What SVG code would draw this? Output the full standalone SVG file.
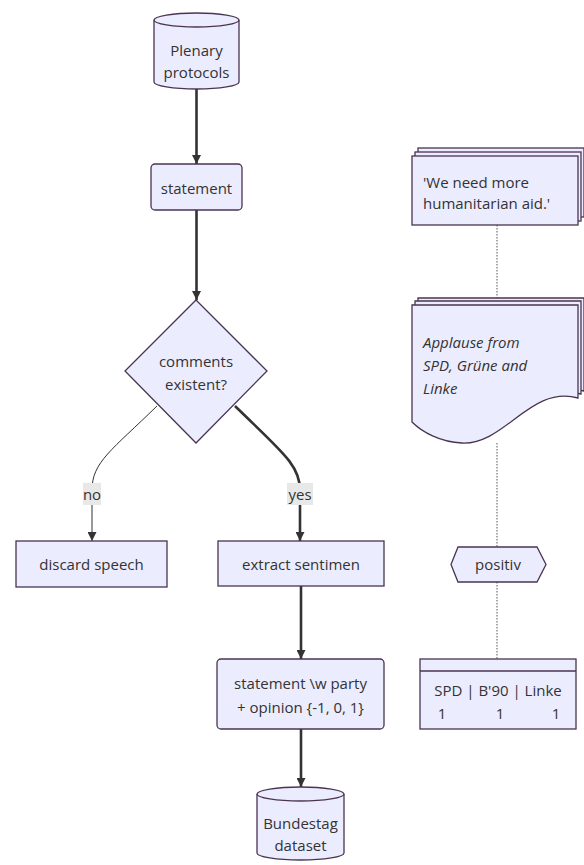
<svg xmlns="http://www.w3.org/2000/svg" width="584" height="865" viewBox="0 0 584 865">
<defs>
<style>
.node{fill:#ECECFF;stroke:#4a3550;stroke-width:1.3}
.t{font-family:"Open Sans","Liberation Sans",sans-serif;font-size:15px;fill:#333;text-anchor:middle;dominant-baseline:central}
.tl{font-family:"Open Sans","Liberation Sans",sans-serif;font-size:15px;fill:#333;dominant-baseline:central}
.it{font-style:italic}
.thick{fill:none;stroke:#333;stroke-width:2.6}
.thin{fill:none;stroke:#333;stroke-width:1}
.dot{fill:none;stroke:#555;stroke-width:1;stroke-dasharray:1.5 1.5}
.lbl{fill:#e8e8e8}
</style>
<marker id="ah" viewBox="0 0 10 10" refX="10" refY="5" markerUnits="userSpaceOnUse" markerWidth="9" markerHeight="9" orient="auto">
<path d="M0,0 L10,5 L0,10 z" fill="#333"/>
</marker>
</defs>
<rect width="584" height="865" fill="#fff"/>
<g id="connectors">
<path class="thick" d="M196.5,89 L196.5,164" marker-end="url(#ah)"/>
<path class="thick" d="M196.5,210 L196.5,300" marker-end="url(#ah)"/>
<path class="thin" d="M157,406 C112,450 92,462 92,490 L92,541" marker-end="url(#ah)"/>
<path class="thick" d="M235,406 C282,452 300,465 300,490 L300,541" marker-end="url(#ah)"/>
<path class="thick" d="M301,586 L301,659" marker-end="url(#ah)"/>
<path class="thick" d="M301,729 L301,787" marker-end="url(#ah)"/>
<path class="dot" d="M497,225 L497,298"/>
<path class="dot" d="M497,443 L497,547"/>
<path class="dot" d="M497,582 L497,659"/>
<rect class="lbl" x="83" y="483" width="18" height="22"/>
<text class="t" x="92" y="494">no</text>
<rect class="lbl" x="287" y="483" width="26" height="22"/>
<text class="t" x="300" y="494">yes</text>
</g>
<g id="plenary">
<path class="node" d="M154,20 A42.5,7 0 0 1 239,20 L239,82 A42.5,7 0 0 1 154,82 Z"/>
<path class="node" d="M154,20 A42.5,7 0 0 0 239,20" fill="none"/>
<text class="t" x="196.5" y="50">Plenary</text>
<text class="t" x="196.5" y="72">protocols</text>
</g>
<g id="statement">
<rect class="node" x="151" y="164" width="91" height="46" rx="4"/>
<text class="t" x="196.5" y="188">statement</text>
</g>
<g id="comments">
<path class="node" d="M196,300 L267,371 L196,443 L125,371 Z"/>
<text class="t" x="196" y="361">comments</text>
<text class="t" x="196" y="384">existent?</text>
</g>
<g id="discard">
<rect class="node" x="16" y="541" width="151" height="46"/>
<text class="t" x="91.5" y="564">discard speech</text>
</g>
<g id="extract">
<rect class="node" x="218" y="541" width="166" height="45"/>
<text class="t" x="301" y="564">extract sentimen</text>
</g>
<g id="result">
<rect class="node" x="217" y="659" width="167" height="70" rx="4"/>
<text class="t" x="300.5" y="683">statement \w party</text>
<text class="t" x="300.5" y="707"> + opinion {-1, 0, 1}</text>
</g>
<g id="bundestag">
<path class="node" d="M257,794 A43.5,7 0 0 1 344,794 L344,853 A43.5,7 0 0 1 257,853 Z"/>
<path class="node" d="M257,794 A43.5,7 0 0 0 344,794" fill="none"/>
<text class="t" x="300.5" y="823">Bundestag</text>
<text class="t" x="300.5" y="845">dataset</text>
</g>
<g id="quote">
<rect class="node" x="418" y="148" width="166" height="69"/>
<rect class="node" x="415" y="152" width="166" height="69"/>
<rect class="node" x="412" y="156" width="166" height="69"/>
<text class="tl" x="423" y="182">'We need more</text>
<text class="tl" x="423" y="203">humanitarian aid.'</text>
</g>
<g id="applause">
<path class="node" d="M418,298 H584 V391 C536,378 511,438 468,436 C446,435 428,425 418,415 Z"/>
<path class="node" d="M415,301 H581 V394 C533,381 508,441 465,439 C443,438 425,428 415,418 Z"/>
<path class="node" d="M412,305 H578 V398 C530,385 505,445 462,443 C440,442 422,432 412,422 Z"/>
<text class="tl it" x="423" y="342">Applause from</text>
<text class="tl it" x="423" y="365">SPD, Grüne and</text>
<text class="tl it" x="423" y="388">Linke</text>
</g>
<g id="positiv">
<path class="node" d="M458,547 H537 L546,564.5 L537,582 H458 L451,564.5 Z"/>
<text class="t" x="498" y="564">positiv</text>
</g>
<g id="table">
<rect class="node" x="420" y="659" width="156" height="70"/>
<line class="node" x1="420" y1="671" x2="576" y2="671"/>
<text class="t" x="498" y="690">SPD | B'90 | Linke</text>
<text class="t" x="442" y="713">1</text>
<text class="t" x="500" y="713">1</text>
<text class="t" x="556" y="713">1</text>
</g>
</svg>
